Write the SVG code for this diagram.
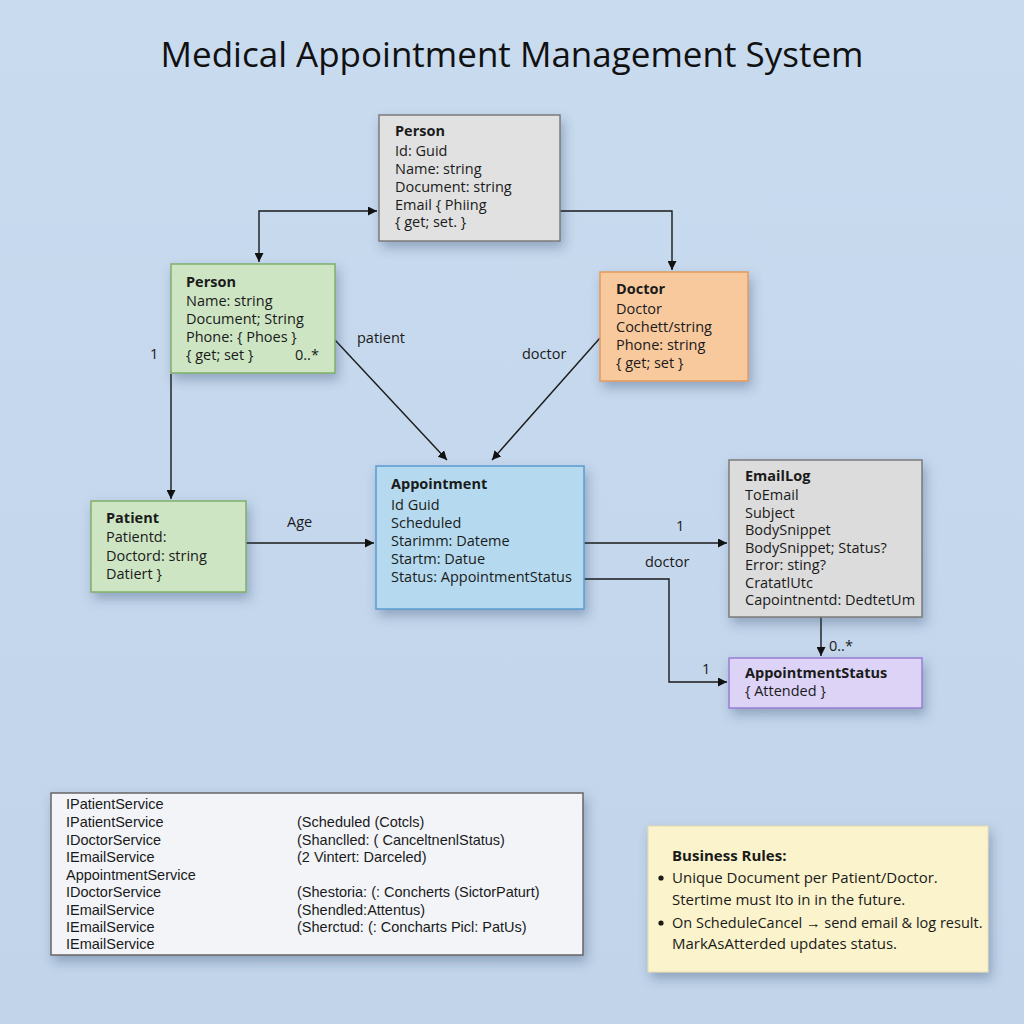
<svg xmlns="http://www.w3.org/2000/svg" width="1024" height="1024" viewBox="0 0 1024 1024">
<defs>
<linearGradient id="bg" x1="0" y1="0" x2="0" y2="1">
<stop offset="0" stop-color="#c9dbef"/>
<stop offset="1" stop-color="#c2d4ea"/>
</linearGradient>
<filter id="sh" x="-20%" y="-20%" width="150%" height="160%">
<feDropShadow dx="3" dy="6" stdDeviation="6" flood-color="#2a3f66" flood-opacity="0.35"/>
</filter>
<marker id="ah" viewBox="0 0 10 10" refX="10" refY="5" markerWidth="9" markerHeight="9" markerUnits="userSpaceOnUse" orient="auto-start-reverse">
<path d="M0,0 L10,5 L0,10 z" fill="#111"/>
</marker>
<style>
.t{font-family:"Open Sans","Noto Sans",sans-serif;font-size:14.5px;fill:#1a1a1a}
.r{font-size:15px}
.b{font-weight:bold}
.s{font-family:"Liberation Sans",Arial,sans-serif;font-size:14.5px;fill:#1a1a1a}
.c{fill:none;stroke:#1a1a1a;stroke-width:1.4}
.lbl{font-family:"Open Sans","Noto Sans",sans-serif;font-size:14.5px;fill:#1a1a1a}
</style>
</defs>
<rect width="1024" height="1024" fill="url(#bg)"/>
<text x="512" y="67" text-anchor="middle" font-family="Open Sans,Noto Sans,sans-serif" font-size="35" fill="#111">Medical Appointment Management System</text>

<g id="connectors">
<path class="c" d="M259,262 L259,211 L377,211" marker-start="url(#ah)" marker-end="url(#ah)"/>
<path class="c" d="M560,211 L672,211 L672,270" marker-end="url(#ah)"/>
<path class="c" d="M335,340 L447,460" marker-end="url(#ah)"/>
<path class="c" d="M600,338 L492,460" marker-end="url(#ah)"/>
<path class="c" d="M171,374 L171,499" marker-end="url(#ah)"/>
<path class="c" d="M246,543 L374,543" marker-end="url(#ah)"/>
<path class="c" d="M584,543 L727,543" marker-end="url(#ah)"/>
<path class="c" d="M584,579 L669,579 L669,682 L727,682" marker-end="url(#ah)"/>
<path class="c" d="M821,617 L821,656" marker-end="url(#ah)"/>
<text class="lbl" x="357" y="343">patient</text>
<text class="lbl" x="522" y="359">doctor</text>
<text class="lbl" x="150" y="359">1</text>
<text class="lbl" x="287" y="527">Age</text>
<text class="lbl" x="676" y="531">1</text>
<text class="lbl" x="645" y="567">doctor</text>
<text class="lbl" x="702" y="674">1</text>
<text class="lbl" x="829" y="651">0..*</text>
</g>

<g id="person-top">
<rect x="379" y="115" width="181" height="126" fill="#e1e1e1" stroke="#7a7a7a" stroke-width="1.5" filter="url(#sh)"/>
<text class="t b" x="395" y="136">Person</text>
<text class="t" x="395" y="156">Id: Guid</text>
<text class="t" x="395" y="174">Name: string</text>
<text class="t" x="395" y="192">Document: string</text>
<text class="t" x="395" y="210">Email { Phiing</text>
<text class="t" x="395" y="227">{ get; set. }</text>
</g>

<g id="person-green">
<rect x="171" y="264" width="164" height="109" fill="#cde5c3" stroke="#7fae6b" stroke-width="1.5" filter="url(#sh)"/>
<text class="t b" x="186" y="287">Person</text>
<text class="t" x="186" y="306">Name: string</text>
<text class="t" x="186" y="324">Document; String</text>
<text class="t" x="186" y="342">Phone: { Phoes }</text>
<text class="t" x="186" y="360">{ get; set }</text>
<text class="t" x="295" y="360">0..*</text>
</g>

<g id="doctor">
<rect x="600" y="272" width="148" height="109" fill="#f9c99e" stroke="#e29a5c" stroke-width="1.5" filter="url(#sh)"/>
<text class="t b" x="616" y="294">Doctor</text>
<text class="t" x="616" y="314">Doctor</text>
<text class="t" x="616" y="332">Cochett/string</text>
<text class="t" x="616" y="350">Phone: string</text>
<text class="t" x="616" y="368">{ get; set }</text>
</g>

<g id="appointment">
<rect x="376" y="466" width="208" height="143" fill="#b5daef" stroke="#5b9bd1" stroke-width="1.5" filter="url(#sh)"/>
<text class="t b" x="391" y="489">Appointment</text>
<text class="t" x="391" y="510">Id Guid</text>
<text class="t" x="391" y="528">Scheduled</text>
<text class="t" x="391" y="546">Starimm: Dateme</text>
<text class="t" x="391" y="564">Startm: Datue</text>
<text class="t" x="391" y="582">Status: AppointmentStatus</text>
</g>

<g id="patient">
<rect x="91" y="501" width="155" height="91" fill="#cde5c3" stroke="#7fae6b" stroke-width="1.5" filter="url(#sh)"/>
<text class="t b" x="106" y="523">Patient</text>
<text class="t" x="106" y="542">Patientd:</text>
<text class="t" x="106" y="561">Doctord: string</text>
<text class="t" x="106" y="579">Datiert }</text>
</g>

<g id="emaillog">
<rect x="729" y="460" width="193" height="157" fill="#dcdcdc" stroke="#7a7a7a" stroke-width="1.5" filter="url(#sh)"/>
<text class="t b" x="745" y="481">EmailLog</text>
<text class="t" x="745" y="500">ToEmail</text>
<text class="t" x="745" y="518">Subject</text>
<text class="t" x="745" y="535">BodySnippet</text>
<text class="t" x="745" y="553">BodySnippet; Status?</text>
<text class="t" x="745" y="570">Error: sting?</text>
<text class="t" x="745" y="588">CratatlUtc</text>
<text class="t" x="745" y="605">Capointnentd: DedtetUm</text>
</g>

<g id="appointmentstatus">
<rect x="729" y="658" width="193" height="50" fill="#dcd3f6" stroke="#977ed4" stroke-width="1.5" filter="url(#sh)"/>
<text class="t b" x="745" y="678">AppointmentStatus</text>
<text class="t" x="745" y="696">{ Attended }</text>
</g>

<g id="services">
<rect x="51" y="793" width="532" height="162" fill="#f2f4f8" stroke="#666" stroke-width="1.5" filter="url(#sh)"/>
<text class="s" x="66" y="809">IPatientService</text>
<text class="s" x="66" y="827">IPatientService</text>
<text class="s" x="66" y="845">IDoctorService</text>
<text class="s" x="66" y="862">IEmailService</text>
<text class="s" x="66" y="880">AppointmentService</text>
<text class="s" x="66" y="897">IDoctorService</text>
<text class="s" x="66" y="915">IEmailService</text>
<text class="s" x="66" y="932">IEmailService</text>
<text class="s" x="66" y="949">IEmailService</text>
<text class="s" x="297" y="827">(Scheduled (Cotcls)</text>
<text class="s" x="297" y="845">(Shanclled: ( CanceltnenlStatus)</text>
<text class="s" x="297" y="862">(2 Vintert: Darceled)</text>
<text class="s" x="297" y="897">(Shestoria: (: Concherts (SictorPaturt)</text>
<text class="s" x="297" y="915">(Shendled:Attentus)</text>
<text class="s" x="297" y="932">(Sherctud: (: Concharts Picl: PatUs)</text>
</g>

<g id="business-rules">
<rect x="648" y="826" width="340" height="146" fill="#fbf3cb" stroke="#e6dcae" stroke-width="1" filter="url(#sh)"/>
<text class="t b r" x="672" y="861">Business Rules:</text>
<circle cx="661" cy="878" r="2.6" fill="#1a1a1a"/>
<text class="t r" x="672" y="883">Unique Document per Patient/Doctor.</text>
<text class="t r" x="672" y="905">Stertime must Ito in in the future.</text>
<circle cx="661" cy="923" r="2.6" fill="#1a1a1a"/>
<text class="t" x="672" y="928">On ScheduleCancel → send email &amp; log result.</text>
<text class="t r" x="672" y="949">MarkAsAtterded updates status.</text>
</g>
</svg>
